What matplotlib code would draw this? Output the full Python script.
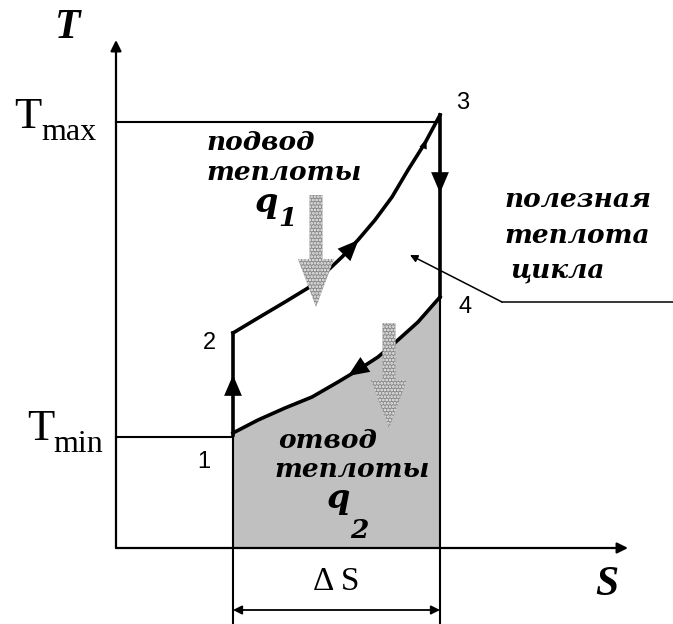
import numpy as np
import matplotlib.pyplot as plt
from matplotlib.patches import FancyArrow

# T-S diagram of the cycle, arbitrary units (origin at the axes corner)
point_names = ['1', '2', '3', '4']
S_pts = [117, 117, 324, 324]
T_pts = [113, 215, 433, 251]
T_max = 426
T_min = 111

# heat supply curve 2-3 and heat removal curve 1-4
S_23 = [117, 142, 169, 192, 209, 226, 242, 259, 276, 292, 309, 324]
T_23 = [215, 230, 246, 260, 275, 291, 308, 328, 351, 378, 405, 433]
S_14 = [117, 142, 169, 196, 222, 242, 262, 282, 302, 324]
T_14 = [115, 128, 140, 151, 166, 178, 191, 208, 226, 251]

S_end = 512   # tip of the S axis
T_end = 508   # tip of the T axis
dim_T = -62   # level of the delta S dimension line

plt.rcParams['hatch.linewidth'] = 1.3
fig = plt.figure(figsize=(6.73, 6.24), dpi=100)
ax = fig.add_axes([0, 0, 1, 1])
ax.set_xlim(-116, 557)
ax.set_ylim(-76, 548)
ax.axis('off')

serif_bi = dict(family='DejaVu Serif', weight='bold', style='italic')
lab_bi = dict(family='Liberation Serif', weight='bold', style='italic')

# area under 1-4 = heat removed
ax.fill_between(S_14, 0, T_14, color='#c0c0c0', lw=0, zorder=1)

# axes with arrows
arr = dict(arrowstyle='-|>', lw=1.6, color='k', mutation_scale=16, shrinkA=0, shrinkB=0)
ax.annotate('', xy=(0, T_end), xytext=(0, 0), arrowprops=arr)
ax.annotate('', xy=(S_end, 0), xytext=(0, 0), arrowprops=arr)

# Tmax / Tmin levels
ax.plot([0, S_pts[2]], [T_max, T_max], color='k', lw=1.5)
ax.plot([0, S_pts[0]], [T_min, T_min], color='k', lw=1.5)

# boundaries of the shaded area and extension lines
ax.plot([S_pts[0], S_pts[0]], [-76, T_pts[0]], color='k', lw=1.5)
ax.plot([S_pts[3], S_pts[3]], [-76, T_pts[3]], color='k', lw=1.5)

# the cycle 1-2-3-4
lw_c = 2.6
ax.plot([S_pts[0], S_pts[1]], [T_pts[0], T_pts[1]], color='k', lw=lw_c)
ax.plot(S_23, T_23, color='k', lw=lw_c, solid_joinstyle='round')
ax.plot([S_pts[2], S_pts[3]], [T_pts[2], T_pts[3]], color='k', lw=lw_c)
ax.plot(S_14, T_14, color='k', lw=lw_c, solid_joinstyle='round')

# direction marks along the path
dir_arr = dict(arrowstyle='-|>,head_length=0.75,head_width=0.32', lw=0, color='k',
               mutation_scale=20, shrinkA=0, shrinkB=0)
ax.annotate('', xy=(S_pts[0], 173), xytext=(S_pts[0], 140), arrowprops=dir_arr)
ax.annotate('', xy=(S_pts[2], 355), xytext=(S_pts[2], 390), arrowprops=dir_arr)
ax.annotate('', xy=((S_23[6] + S_23[7]) / 2 - 8, (T_23[6] + T_23[7]) / 2 - 10),
            xytext=(S_23[5], T_23[5]), arrowprops=dir_arr)
ax.annotate('', xy=((S_23[10] + S_23[11]) / 2 - 6, (T_23[10] + T_23[11]) / 2 - 10),
            xytext=(S_23[10], T_23[10]),
            arrowprops=dict(dir_arr, arrowstyle='-|>,head_length=0.5,head_width=0.2',
                            mutation_scale=14))
ax.annotate('', xy=((S_14[4] + S_14[5]) / 2, (T_14[4] + T_14[5]) / 2),
            xytext=(S_14[5] + 8, T_14[5] + 6), arrowprops=dir_arr)

# dotted heat-flow arrows
for x0, y0, y1 in [(200, 353, 241), (273, 225, 120)]:
    ax.add_patch(FancyArrow(x0, y0, 0, y1 - y0, width=13, head_width=36, head_length=48,
                            length_includes_head=True, facecolor='#8a8a8a',
                            edgecolor='#f4f4f4', hatch='.....', lw=0, zorder=2))

# leader to "useful heat" label
ax.plot([386, 557], [246, 246], color='k', lw=1.1)
ax.annotate('', xy=(294, 293), xytext=(386, 246),
            arrowprops=dict(arrowstyle='-|>', lw=1.1, color='k', mutation_scale=11,
                            shrinkA=0, shrinkB=0))

# delta S dimension
ax.annotate('', xy=(S_pts[0], dim_T), xytext=(S_pts[3], dim_T),
            arrowprops=dict(arrowstyle='<|-|>', lw=1.3, color='k', mutation_scale=13,
                            shrinkA=0, shrinkB=0))
ax.text((S_pts[0] + S_pts[3]) / 2, -34, '\u0394 S', ha='center', va='center',
        family='Liberation Serif', fontsize=24)

# axis labels
ax.text(-48, 520, 'T', ha='center', va='center', fontsize=30, **lab_bi)
ax.text(491, -37, 'S', ha='center', va='center', fontsize=30, **lab_bi)

ax.text(-102, 420, 'T', ha='left', va='baseline', family='Liberation Serif', fontsize=32)
ax.text(-75, 408, 'max', ha='left', va='baseline', family='Liberation Serif', fontsize=23)
ax.text(-89, 108, 'T', ha='left', va='baseline', family='Liberation Serif', fontsize=32)
ax.text(-63, 96, 'min', ha='left', va='baseline', family='Liberation Serif', fontsize=23)

# point numbers
num_xy = [(88, 86), (93, 205), (347, 445), (349, 241)]
for name, (x, y) in zip(point_names, num_xy):
    ax.text(x, y, name, ha='center', va='center', family='Liberation Sans', fontsize=17)

# russian labels
ax.text(91, 398, 'подвод', ha='left', va='baseline', fontsize=19, **serif_bi)
ax.text(91, 368, 'теплоты', ha='left', va='baseline', fontsize=19, **serif_bi)
ax.text(139, 336, 'q', ha='left', va='baseline', fontsize=24, **serif_bi)
ax.text(162, 322, '1', ha='left', va='baseline', fontsize=19, **serif_bi)

ax.text(162, 100, 'отвод', ha='left', va='baseline', fontsize=19, **serif_bi)
ax.text(159, 71, 'теплоты', ha='left', va='baseline', fontsize=19, **serif_bi)
ax.text(211, 40, 'q', ha='left', va='baseline', fontsize=24, **serif_bi)
ax.text(234, 10, '2', ha='left', va='baseline', fontsize=19, **serif_bi)

ax.text(389, 341, 'полезная', ha='left', va='baseline', fontsize=19, **serif_bi)
ax.text(389, 305, 'теплота', ha='left', va='baseline', fontsize=19, **serif_bi)
ax.text(394, 271, 'цикла', ha='left', va='baseline', fontsize=19, **serif_bi)

fig.savefig('out.png', dpi=100)
